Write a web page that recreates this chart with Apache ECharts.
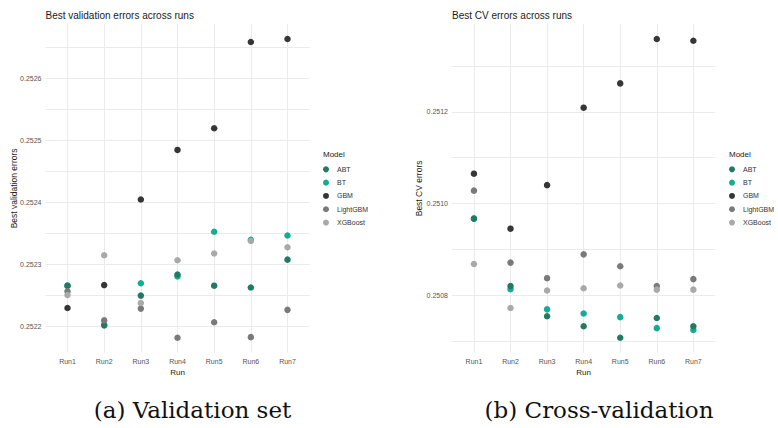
<!DOCTYPE html>
<html><head><meta charset="utf-8">
<script src="https://cdn.jsdelivr.net/npm/echarts@6/dist/echarts.min.js"></script>
<style>html,body{margin:0;padding:0;background:#fff}#c{width:778px;height:428px}</style>
</head><body><div id="c"></div>
<script>
// ---- data ----
const runs = ['Run1', 'Run2', 'Run3', 'Run4', 'Run5', 'Run6', 'Run7'];
const models = ['ABT', 'BT', 'GBM', 'LightGBM', 'XGBoost'];

// (a) Validation set
const valABT = [0.252266, 0.252202, 0.252250, 0.252284, 0.252266, 0.252263, 0.252308];
const valBT  = [0.252266, 0.252203, 0.252270, 0.252281, 0.252353, 0.252340, 0.252347];
const valGBM = [0.252230, 0.252267, 0.252405, 0.252485, 0.252520, 0.252659, 0.252664];
const valLightGBM = [0.252257, 0.252210, 0.252229, 0.252182, 0.252207, 0.252183, 0.252227];
const valXGBoost  = [0.252251, 0.252315, 0.252238, 0.252307, 0.252318, 0.252338, 0.252328];

// (b) Cross-validation
const cvABT = [0.250967, 0.250820, 0.250754, 0.250732, 0.250707, 0.250750, 0.250732];
const cvBT  = [0.250967, 0.250813, 0.250769, 0.250760, 0.250752, 0.250728, 0.250724];
const cvGBM = [0.251065, 0.250945, 0.251040, 0.251209, 0.251262, 0.251359, 0.251355];
const cvLightGBM = [0.251028, 0.250871, 0.250837, 0.250889, 0.250863, 0.250820, 0.250835];
const cvXGBoost  = [0.250868, 0.250772, 0.250810, 0.250815, 0.250821, 0.250812, 0.250812];

// tick values / labels
const valGridValues = [0.2522, 0.25225, 0.2523, 0.25235, 0.2524, 0.25245, 0.2525, 0.25255, 0.2526, 0.25265];
const valTickLabels = [0.2522, 0.2523, 0.2524, 0.2525, 0.2526];
const cvGridValues = [0.2507, 0.2508, 0.2509, 0.2510, 0.2511, 0.2512, 0.2513];
const cvTickLabels = [0.2508, 0.2510, 0.2512];
const runPositions = [1, 2, 3, 4, 5, 6, 7];

// ---- styling ----
const colors = { ABT: '#237a63', BT: '#14ad93', GBM: '#363636', LightGBM: '#7a7a7a', XGBoost: '#a9a9a9' };
const FONT = 'Liberation Sans, Arial, sans-serif';
const drawOrder = ['BT', 'ABT', 'GBM', 'LightGBM', 'XGBoost'];

const valData = { ABT: valABT, BT: valBT, GBM: valGBM, LightGBM: valLightGBM, XGBoost: valXGBoost };
const cvData = { ABT: cvABT, BT: cvBT, GBM: cvGBM, LightGBM: cvLightGBM, XGBoost: cvXGBoost };

function range(obj) {
  const all = [].concat(...Object.values(obj));
  const lo = Math.min(...all), hi = Math.max(...all), r = hi - lo;
  return [lo - 0.05 * r, hi + 0.05 * r];
}
const valR = range(valData), cvR = range(cvData);

const grids = [
  { left: 45.5, top: 24, width: 264, height: 328.7 },
  { left: 452, top: 24, width: 263.3, height: 328.7 }
];

function xAxis(gi) {
  return {
    type: 'value', gridIndex: gi, min: 0.4, max: 7.6,
    axisLine: { show: false },
    axisTick: { show: false, customValues: runPositions },
    axisLabel: { customValues: runPositions, formatter: v => runs[Math.round(v) - 1], color: '#555', fontSize: 7, fontFamily: FONT, margin: 5 },
    splitLine: { show: true, lineStyle: { color: '#ebebeb', width: 1 } }
  };
}
function yAxis(gi, r, grid, labels) {
  return {
    type: 'value', gridIndex: gi, min: r[0], max: r[1], scale: true,
    axisLine: { show: false },
    axisTick: { show: false, customValues: grid },
    axisLabel: { customValues: labels, formatter: v => v.toFixed(4), color: '#555', fontSize: 7, fontFamily: FONT, margin: 4 },
    splitLine: { show: true, lineStyle: { color: '#ebebeb', width: 1 } }
  };
}

const series = [];
[valData, cvData].forEach((d, gi) => {
  drawOrder.forEach(m => {
    series.push({
      name: m, type: 'scatter', xAxisIndex: gi, yAxisIndex: gi,
      symbol: 'circle', symbolSize: 6.5,
      itemStyle: { color: colors[m], opacity: 1 },
      emphasis: { disabled: true },
      data: d[m].map((v, i) => [runPositions[i], v])
    });
  });
});

function legend(left) {
  return {
    data: models, orient: 'vertical', left: left, top: 162.7, padding: 0,
    icon: 'circle', itemWidth: 12, itemHeight: 6, itemGap: 0,
    textStyle: { fontSize: 7, fontFamily: FONT, color: '#333', lineHeight: 13.3 },
    selectedMode: false
  };
}

function txt(x, y, text, size, opts) {
  return Object.assign({
    type: 'text', x: x, y: y, silent: true,
    style: Object.assign({
      text: text, fontSize: size, fontFamily: FONT, fill: '#1a1a1a',
      align: 'left', verticalAlign: 'middle', textAlign: 'left', textVerticalAlign: 'middle'
    }, (opts && opts.style) || {})
  }, (opts && opts.el) || {});
}
const center = { align: 'center', textAlign: 'center' };

const graphic = [
  txt(45.5, 15, 'Best validation errors across runs', 10),
  txt(452, 15, 'Best CV errors across runs', 10),
  txt(177.5, 372, 'Run', 8, { style: center }),
  txt(583.6, 372, 'Run', 8, { style: center }),
  txt(14, 188.4, 'Best validation errors', 8.5, { style: center, el: { rotation: Math.PI / 2 } }),
  txt(419, 188.4, 'Best CV errors', 8.5, { style: center, el: { rotation: Math.PI / 2 } }),
  txt(323, 154, 'Model', 8),
  txt(729, 154, 'Model', 8),
  txt(192.5, 410, '(a) Validation set', 23, { style: Object.assign({ fontFamily: 'DejaVu Serif, serif', fill: '#111' }, center) }),
  txt(599, 410, '(b) Cross-validation', 23, { style: Object.assign({ fontFamily: 'DejaVu Serif, serif', fill: '#111' }, center) })
];

const chart = echarts.init(document.getElementById('c'), null, { renderer: 'svg' });
chart.setOption({
  animation: false,
  backgroundColor: '#fff',
  grid: grids,
  xAxis: [xAxis(0), xAxis(1)],
  yAxis: [yAxis(0, valR, valGridValues, valTickLabels), yAxis(1, cvR, cvGridValues, cvTickLabels)],
  legend: [legend(323), legend(729)],
  series: series,
  graphic: graphic
});
</script></body></html>
